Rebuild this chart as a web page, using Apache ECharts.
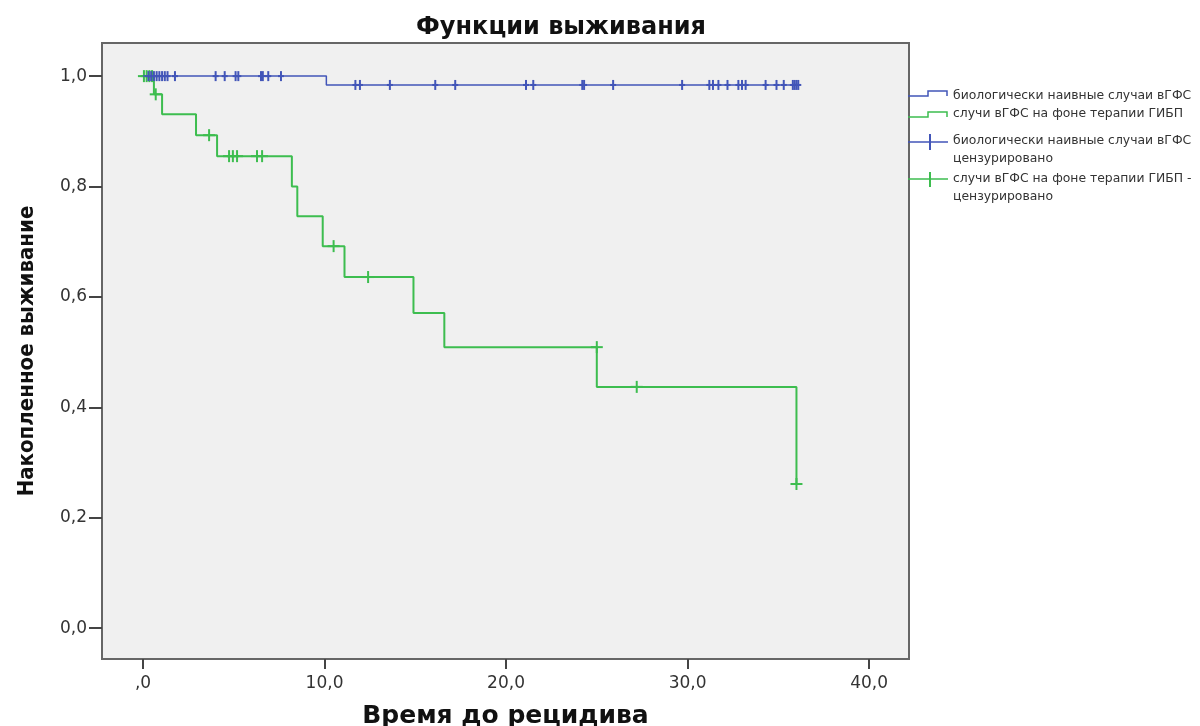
<!DOCTYPE html>
<html>
<head>
<meta charset="utf-8">
<script src="https://cdn.jsdelivr.net/npm/echarts@6/dist/echarts.min.js"></script>
<style>
  html, body { margin: 0; padding: 0; background: #fff; }
  #main { width: 1200px; height: 726px; }
</style>
</head>
<body>
<div id="main"></div>
<script>
// данные (время, выживание)
var blueSurv = [[0, 1], [10.1, 0.984], [36.1, 0.984]];
var greenSurv = [[0, 1], [0.6, 0.967], [1.05, 0.931], [2.92, 0.893], [4.08, 0.855],
  [8.2, 0.80], [8.5, 0.746], [9.9, 0.692], [11.1, 0.636], [14.9, 0.571],
  [16.6, 0.509], [25.0, 0.437], [36.0, 0.261]];
// цензурированные наблюдения
var blueCens = [[0.3, 1], [0.45, 1], [0.6, 1], [0.75, 1], [0.9, 1], [1.05, 1], [1.2, 1], [1.35, 1],
  [1.76, 1], [4.0, 1], [4.5, 1], [5.1, 1], [5.25, 1], [6.5, 1], [6.6, 1], [6.9, 1], [7.6, 1],
  [11.7, 0.984], [11.95, 0.984], [13.6, 0.984], [16.1, 0.984], [17.2, 0.984], [21.1, 0.984],
  [21.5, 0.984], [24.2, 0.984], [24.3, 0.984], [25.9, 0.984], [29.7, 0.984], [31.2, 0.984],
  [31.4, 0.984], [31.7, 0.984], [32.2, 0.984], [32.8, 0.984], [33.0, 0.984], [33.2, 0.984],
  [34.3, 0.984], [34.9, 0.984], [35.3, 0.984], [35.8, 0.984], [35.9, 0.984], [36.0, 0.984],
  [36.1, 0.984]];
var greenCens = [[0.05, 1], [0.2, 1], [0.35, 1], [0.5, 1], [0.7, 0.967], [3.64, 0.893],
  [4.74, 0.855], [4.95, 0.855], [5.18, 0.855], [6.28, 0.855], [6.56, 0.855],
  [10.5, 0.692], [12.4, 0.636], [25.0, 0.509], [27.2, 0.437], [36.0, 0.261]];
var xTicks = [0, 10, 20, 30, 40];
var yTicks = [0, 0.2, 0.4, 0.6, 0.8, 1.0];

var blue = '#4255b8', green = '#3dbd4f';

function fmt(v) {
  var s = v.toFixed(1).replace('.', ',');
  return s;
}
function plus(color, w, h) {
  return function (params, api) {
    var p = api.coord([api.value(0), api.value(1)]);
    return {
      type: 'group',
      children: [
        { type: 'line', shape: { x1: p[0], y1: p[1] - h, x2: p[0], y2: p[1] + h }, style: { stroke: color, lineWidth: 2 } },
        { type: 'line', shape: { x1: p[0] - w, y1: p[1], x2: p[0] + w, y2: p[1] }, style: { stroke: color, lineWidth: 2 } }
      ]
    };
  };
}

var myChart = echarts.init(document.getElementById('main'));
var legendFont = '12.4px "DejaVu Sans", sans-serif';
var option = {
  backgroundColor: '#ffffff',
  animation: false,
  grid: { left: 102, top: 43, right: 291, bottom: 67, outerBoundsMode: 'none', containLabel: false,
    show: true, backgroundColor: '#f0f0f0', borderColor: '#666', borderWidth: 2 },
  xAxis: {
    type: 'value', min: -2.26, max: 42.2,
    name: 'Время до рецидива', nameLocation: 'middle', nameGap: 45,
    nameTextStyle: { fontFamily: 'DejaVu Sans', fontWeight: 'bold', fontSize: 25, color: '#111', verticalAlign: 'top' },
    splitLine: { show: false },
    axisLine: { show: false, onZero: false },
    axisTick: { show: true, inside: false, length: 10, customValues: xTicks, lineStyle: { color: '#444', width: 2 } },
    axisLabel: { customValues: xTicks, margin: 16, fontFamily: 'DejaVu Sans', fontSize: 17, color: '#333',
      formatter: function (v) { return v === 0 ? ',0' : fmt(v); } }
  },
  yAxis: {
    type: 'value', min: -0.056, max: 1.06,
    name: 'Накопленное выживание', nameLocation: 'middle', nameGap: 64,
    nameTextStyle: { fontFamily: '"DejaVu Sans Condensed", "Liberation Sans Narrow", sans-serif', fontWeight: 'bold', fontSize: 22, color: '#111' },
    splitLine: { show: false },
    axisLine: { show: false, onZero: false },
    axisTick: { show: true, inside: false, length: 13, customValues: yTicks, lineStyle: { color: '#444', width: 2 } },
    axisLabel: { customValues: yTicks, margin: 15, fontFamily: 'DejaVu Sans', fontSize: 17, color: '#333', formatter: fmt }
  },
  graphic: [
    { type: 'text', x: 561, y: 28, style: { text: 'Функции выживания', align: 'center', verticalAlign: 'middle', font: 'bold 24px "DejaVu Sans", sans-serif', fill: '#111' } },
    // легенда
    { type: 'polyline', shape: { points: [[908, 96], [928, 96], [928, 91], [947, 91], [947, 96]] }, style: { stroke: blue, lineWidth: 1.5, fill: null } },
    { type: 'text', x: 953, y: 96, style: { text: 'биологически наивные случаи вГФС', verticalAlign: 'middle', font: legendFont, fill: '#333' } },
    { type: 'polyline', shape: { points: [[908, 117], [928, 117], [928, 112], [947, 112], [947, 117]] }, style: { stroke: green, lineWidth: 1.5, fill: null } },
    { type: 'text', x: 953, y: 114, style: { text: 'случи вГФС на фоне терапии ГИБП', verticalAlign: 'middle', font: legendFont, fill: '#333' } },
    { type: 'line', shape: { x1: 908, y1: 142, x2: 948, y2: 142 }, style: { stroke: blue, lineWidth: 1.5 } },
    { type: 'line', shape: { x1: 930, y1: 134, x2: 930, y2: 150 }, style: { stroke: blue, lineWidth: 2 } },
    { type: 'text', x: 953, y: 141, style: { text: 'биологически наивные случаи вГФС', verticalAlign: 'middle', font: legendFont, fill: '#333' } },
    { type: 'text', x: 953, y: 159, style: { text: 'цензурировано', verticalAlign: 'middle', font: legendFont, fill: '#333' } },
    { type: 'line', shape: { x1: 908, y1: 179, x2: 948, y2: 179 }, style: { stroke: green, lineWidth: 1.5 } },
    { type: 'line', shape: { x1: 930, y1: 172, x2: 930, y2: 187 }, style: { stroke: green, lineWidth: 2 } },
    { type: 'text', x: 953, y: 179, style: { text: 'случи вГФС на фоне терапии ГИБП -', verticalAlign: 'middle', font: legendFont, fill: '#333' } },
    { type: 'text', x: 953, y: 197, style: { text: 'цензурировано', verticalAlign: 'middle', font: legendFont, fill: '#333' } }
  ],
  series: [
    { name: 'случи вГФС на фоне терапии ГИБП', type: 'line', step: 'end', showSymbol: false, data: greenSurv,
      lineStyle: { color: green, width: 2 }, z: 2 },
    { name: 'случи вГФС на фоне терапии ГИБП - цензурировано', type: 'custom', data: greenCens, renderItem: plus(green, 6, 6), z: 3 },
    { name: 'биологически наивные случаи вГФС', type: 'line', step: 'end', showSymbol: false, data: blueSurv,
      lineStyle: { color: blue, width: 1.5 }, z: 4 },
    { name: 'биологически наивные случаи вГФС цензурировано', type: 'custom', data: blueCens, renderItem: plus(blue, 3, 5), z: 5 }
  ]
};
myChart.setOption(option);
</script>
</body>
</html>
